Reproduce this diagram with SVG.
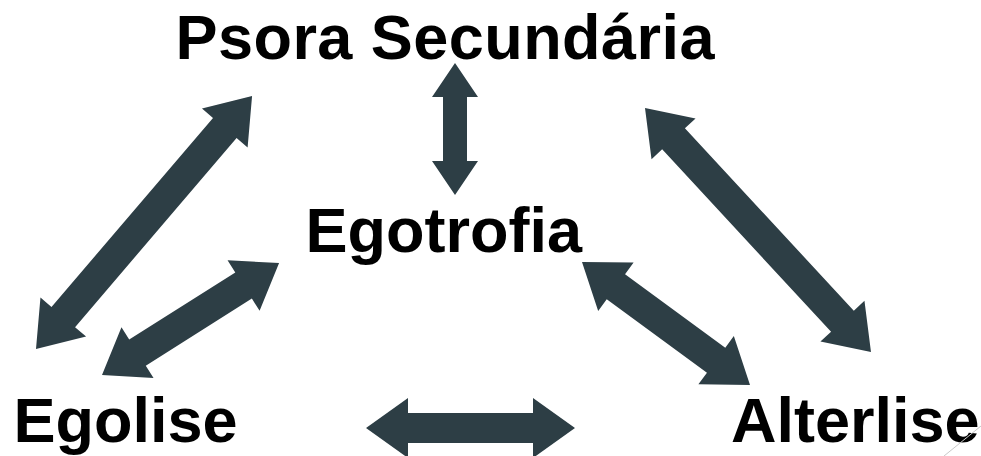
<svg xmlns="http://www.w3.org/2000/svg" width="981" height="456" viewBox="0 0 981 456">
  <style>
    .lbl { font-family: "Liberation Sans", Arial, sans-serif; font-weight: bold; font-size: 63px; fill: #000000; }
    .arr { fill: #2d3e45; }
  </style>
  <rect x="0" y="0" width="981" height="456" fill="#ffffff"/>
  <g id="connectors">
    <!-- Psora <-> Egolise (long left) -->
    <polygon class="arr" transform="translate(36,349) rotate(-49.5)" points="0,0 42,-30 42,-15.5 290.7,-15.5 290.7,-30 332.7,0 290.7,30 290.7,15.5 42,15.5 42,30"/>
    <!-- Psora <-> Alterlise (long right) -->
    <polygon class="arr" transform="translate(645,108) rotate(47.2)" points="0,0 42,-30 42,-15.5 290.6,-15.5 290.6,-30 332.6,0 290.6,30 290.6,15.5 42,15.5 42,30"/>
    <!-- Egotrofia <-> Egolise -->
    <polygon class="arr" transform="translate(102,375) rotate(-32.3)" points="0,0 42,-30 42,-15.5 167.5,-15.5 167.5,-30 209.5,0 167.5,30 167.5,15.5 42,15.5 42,30"/>
    <!-- Egotrofia <-> Alterlise -->
    <polygon class="arr" transform="translate(582,262) rotate(36.2)" points="0,0 42,-30 42,-15.5 166.2,-15.5 166.2,-30 208.2,0 166.2,30 166.2,15.5 42,15.5 42,30"/>
    <!-- Psora <-> Egotrofia (vertical) -->
    <polygon class="arr" transform="translate(455,63) rotate(90)" points="0,0 34,-23 34,-12 98,-12 98,-23 132,0 98,23 98,12 34,12 34,23"/>
    <!-- Egolise <-> Alterlise (horizontal) -->
    <polygon class="arr" transform="translate(366,428)" points="0,0 42,-30 42,-15 167,-15 167,-30 209,0 167,30 167,15 42,15 42,30"/>
  </g>
  <g id="psora">
    <text class="lbl" x="175.5" y="59" textLength="539" lengthAdjust="spacing">Psora Secundária</text>
  </g>
  <g id="egotrofia">
    <text class="lbl" x="305.5" y="252">Egotrofia</text>
  </g>
  <g id="egolise">
    <text class="lbl" x="13.5" y="442">Egolise</text>
  </g>
  <g id="alterlise">
    <text class="lbl" x="731" y="442">Alterlise</text>
  </g>
  <line x1="944" y1="456" x2="981" y2="426" stroke="#c8c8c8" stroke-width="1"/>
</svg>
